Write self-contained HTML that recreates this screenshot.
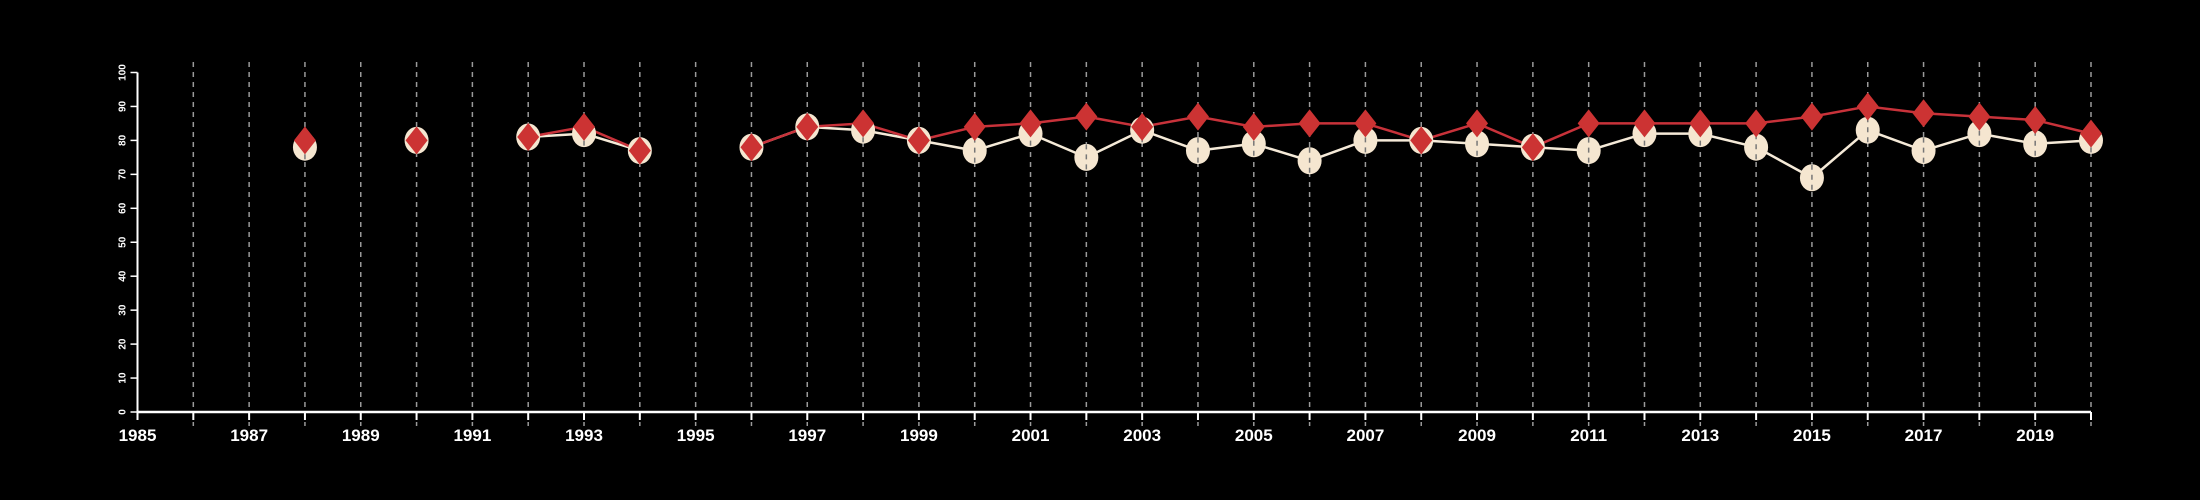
<!DOCTYPE html>
<html><head><meta charset="utf-8"><style>
html,body{margin:0;padding:0;background:#000;}
svg{display:block;}
text{font-family:"Liberation Sans",sans-serif;font-weight:bold;fill:#fff;}
</style></head><body>
<svg id="chart" width="2200" height="500" viewBox="0 0 2200 500">
<rect width="2200" height="500" fill="#000"/>
<g id="grid"></g>
<g id="axes"></g>
<g id="series"></g>
</svg>
<script>
const years = [1988,1990,1992,1993,1994,1996,1997,1998,1999,2000,2001,2002,2003,2004,2005,2006,2007,2008,2009,2010,2011,2012,2013,2014,2015,2016,2017,2018,2019,2020];
const whiteValues = [78,80,81,82,77,78,84,83,80,77,82,75,83,77,79,74,80,80,79,78,77,82,82,78,69,83,77,82,79,80];
const redValues = [80,80,81,84,77,78,84,85,80,84,85,87,84,87,84,85,85,80,85,78,85,85,85,85,87,90,88,87,86,82];
const yTicks = [0,10,20,30,40,50,60,70,80,90,100];
const xLabelYears = [1985,1987,1989,1991,1993,1995,1997,1999,2001,2003,2005,2007,2009,2011,2013,2015,2017,2019];
const xMin = 1985, xMax = 2020, yMin = 0, yMax = 100;

const NS = "http://www.w3.org/2000/svg";
const X0 = 137.5, X1 = 2091, Y0 = 412, Y1 = 72.5;
function xs(v){ return X0 + (v - xMin) / (xMax - xMin) * (X1 - X0); }
function ys(v){ return Y0 - (v - yMin) / (yMax - yMin) * (Y0 - Y1); }
function mk(tag, attrs, parent){ const e = document.createElementNS(NS, tag); for (const k in attrs) e.setAttribute(k, attrs[k]); parent.appendChild(e); return e; }

const grid = document.getElementById('grid');
const axes = document.getElementById('axes');
const series = document.getElementById('series');

for (let yr = xMin + 1; yr <= xMax; yr++) {
  const l = mk('line', {x1: xs(yr), x2: xs(yr), y1: 62, y2: 426, stroke: '#9a9a9a', 'stroke-width': 1.5, 'stroke-dasharray': '5,5'}, grid);
  
  
}

const xa = mk('line', {x1: X0, x2: X1, y1: Y0, y2: Y0, stroke: '#fff', 'stroke-width': 2.5}, axes);


for (let yr = xMin; yr <= xMax; yr++) {
  const t = mk('line', {x1: xs(yr), x2: xs(yr), y1: Y0, y2: Y0 + 8, stroke: '#fff', 'stroke-width': 2}, axes);
  
  
}
xLabelYears.forEach(yr => {
  const t = mk('text', {x: xs(yr), y: 441, 'text-anchor': 'middle', 'font-size': 17}, axes);
  t.textContent = yr;
  
  
});
const ya = mk('line', {x1: X0, x2: X0, y1: Y0, y2: Y1, stroke: '#fff', 'stroke-width': 2}, axes);


yTicks.forEach(v => {
  const t = mk('line', {x1: X0 - 7, x2: X0, y1: ys(v), y2: ys(v), stroke: '#fff', 'stroke-width': 1.5}, axes);
  
  
  const lb = mk('text', {x: 0, y: 0, 'text-anchor': 'middle', 'font-size': 10, transform: 'translate(' + (X0 - 12) + ',' + ys(v) + ') rotate(-90)'}, axes);
  lb.textContent = v;
  
  
});

function drawLine(vals, color, name){
  for (let i = 1; i < years.length; i++) {
    if (years[i] - years[i-1] !== 1) continue;
    const l = mk('line', {x1: xs(years[i-1]), y1: ys(vals[i-1]), x2: xs(years[i]), y2: ys(vals[i]), stroke: color, 'stroke-width': 2.5}, series);
    
    
  }
}
drawLine(whiteValues, '#f5ead8', 'white-series');
drawLine(redValues, '#c8323a', 'red-series');

years.forEach((yr, i) => {
  const c = mk('ellipse', {cx: xs(yr), cy: ys(whiteValues[i]), rx: 12, ry: 13.5, fill: '#f5e6d0'}, series);
  
  
  const d = mk('line', {x1: xs(yr), x2: xs(yr), y1: ys(whiteValues[i]) - 13, y2: ys(whiteValues[i]) + 13, stroke: '#777', 'stroke-width': 1.5, 'stroke-dasharray': '5,5'}, series);
  
  
});
years.forEach((yr, i) => {
  const x = xs(yr), y = ys(redValues[i]);
  const p = mk('polygon', {points: (x) + ',' + (y - 14) + ' ' + (x + 11) + ',' + y + ' ' + x + ',' + (y + 14) + ' ' + (x - 11) + ',' + y, fill: '#cc3333'}, series);
  
  
});
</script>
</body></html>
